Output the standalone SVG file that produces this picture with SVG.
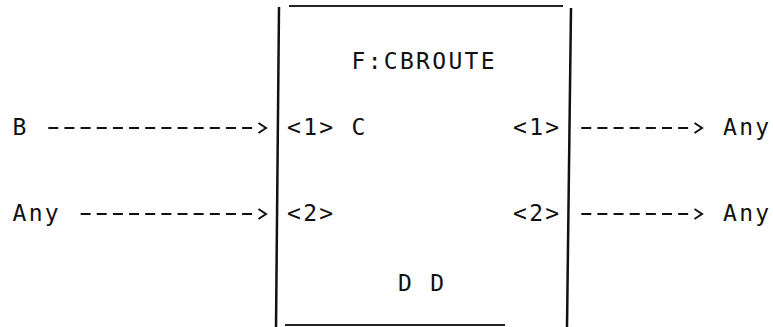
<svg xmlns="http://www.w3.org/2000/svg" width="773" height="327" viewBox="0 0 773 327">
<style>
text{font-family:"DejaVu Sans Mono","Liberation Mono",monospace;font-size:23px;fill:#111;letter-spacing:2.3px}
.box{stroke:#111;stroke-width:2.5;fill:none}
.rule{stroke:#222;stroke-width:2;fill:none}
.edge{stroke:#111;stroke-width:2;stroke-dasharray:10 6.15;fill:none}
.head{stroke:#111;stroke-width:2;fill:none}
</style>
<rect width="773" height="327" fill="#fff"/>
<g id="cbroute">
<path class="box" d="M279,7 L276,327"/>
<path class="box" d="M571,8 L567,327"/>
<path class="rule" d="M289,6 H563"/>
<path class="rule" d="M285,325 H505"/>
<text x="351.5" y="69">F:CBROUTE</text>
<text x="287" y="135">&lt;1&gt; C</text>
<text x="287" y="221">&lt;2&gt;</text>
<text x="513" y="135">&lt;1&gt;</text>
<text x="513" y="221">&lt;2&gt;</text>
<text x="398" y="291">D D</text>
</g>
<g id="in-b"><text x="12.5" y="135">B</text></g>
<g id="in-any"><text x="12.5" y="221">Any</text></g>
<g id="out-any-1"><text x="723" y="135">Any</text></g>
<g id="out-any-2"><text x="723" y="221">Any</text></g>
<g id="connectors">
<path class="edge" d="M48.3,128 H252.1"/>
<polyline class="head" points="258.5,123 266,128 258.5,133"/>
<path class="edge" d="M80.6,214 H252.1"/>
<polyline class="head" points="258.5,209 266,214 258.5,219"/>
<path class="edge" d="M581.25,128 H688.15"/>
<polyline class="head" points="694.5,123 702,128 694.5,133"/>
<path class="edge" d="M581.25,214 H688.15"/>
<polyline class="head" points="694.5,209 702,214 694.5,219"/>
</g>
</svg>
